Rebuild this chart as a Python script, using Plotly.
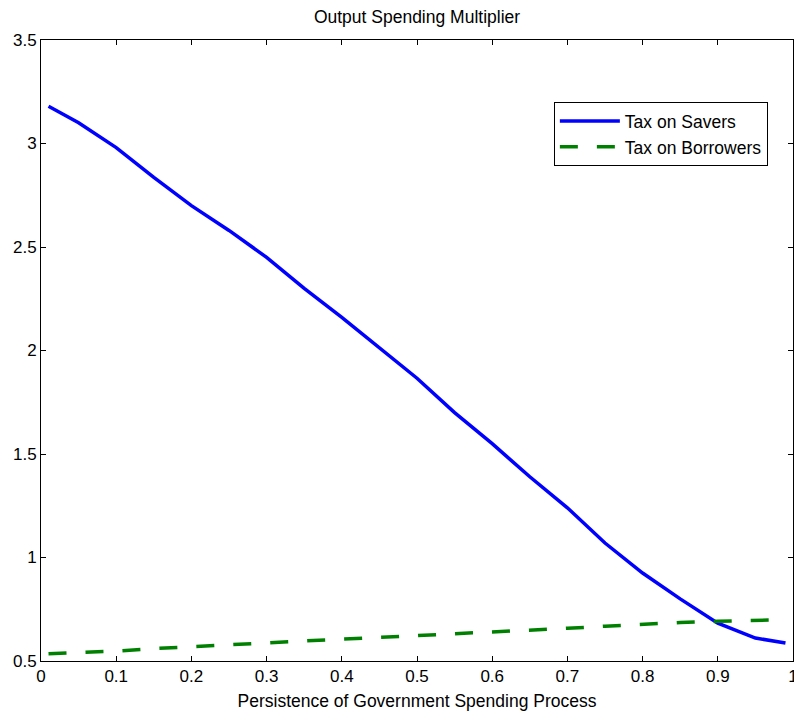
import plotly.graph_objects as go

# persistence values (x)
persistence = [0.01, 0.05, 0.10, 0.15, 0.20, 0.25, 0.30, 0.35, 0.40, 0.45, 0.50,
               0.55, 0.60, 0.65, 0.70, 0.75, 0.80, 0.85, 0.90, 0.95, 0.99]
tax_on_savers = [3.18, 3.10, 2.98, 2.836, 2.70, 2.58, 2.45, 2.30, 2.16, 2.015, 1.866,
                 1.70, 1.55, 1.39, 1.24, 1.07, 0.925, 0.80, 0.683, 0.611, 0.587]
tax_on_borrowers = [0.535, 0.540, 0.548, 0.560, 0.570, 0.578, 0.590, 0.597, 0.606, 0.614, 0.622,
                    0.630, 0.638, 0.650, 0.658, 0.668, 0.678, 0.686, 0.692, 0.698, 0.700]

fig = go.Figure()
fig.add_trace(go.Scatter(x=persistence, y=tax_on_savers, mode="lines", name="Tax on Savers",
                         line=dict(color="#0000ff", width=3.5)))
fig.add_trace(go.Scatter(x=persistence, y=tax_on_borrowers, mode="lines", name="Tax on Borrowers",
                         line=dict(color="#008000", width=3.5, dash="18px,19px")))

font = "Liberation Sans, Arial, sans-serif"
axis_common = dict(showline=True, linecolor="black", linewidth=1, mirror="ticks",
                   ticks="inside", ticklen=5, tickcolor="black", showgrid=False, zeroline=False,
                   automargin=False,
                   tickfont=dict(family=font, size=17, color="black"))

fig.update_layout(
    width=794, height=715,
    margin=dict(l=41, r=1, t=40, b=54),
    paper_bgcolor="white", plot_bgcolor="white",
    title=dict(text="Output Spending Multiplier", x=0.5, xanchor="center", xref="paper",
               y=1 - 17 / 715, yanchor="middle",
               font=dict(family=font, size=17.5, color="black")),
    xaxis=dict(range=[0, 1], dtick=0.1, tick0=0, ticklabeloverflow="allow",
               title=dict(text="Persistence of Government Spending Process", standoff=9,
                          font=dict(family=font, size=17.5, color="black")),
               **axis_common),
    yaxis=dict(range=[0.5, 3.5], dtick=0.5, tick0=0.5, **axis_common),
    legend=dict(x=0.682, y=0.9, xanchor="left", yanchor="top",
                bordercolor="black", borderwidth=1, bgcolor="white",
                font=dict(family=font, size=17.5, color="black"),
                tracegroupgap=0, itemwidth=60),
    showlegend=True,
)

fig.write_html("out.html")
